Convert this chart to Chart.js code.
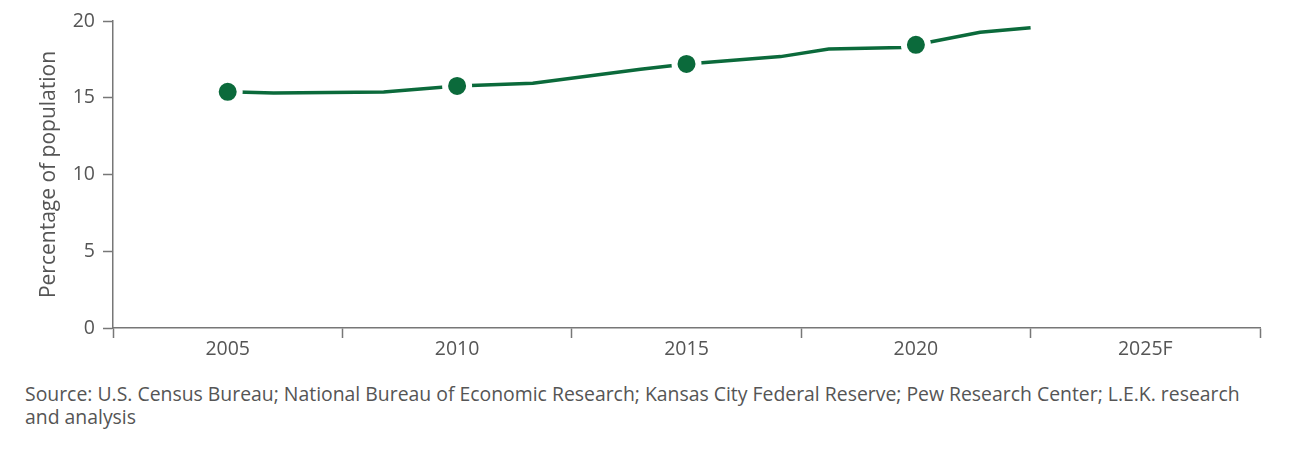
<!DOCTYPE html>
<html>
<head>
<meta charset="utf-8">
<script src="https://cdn.jsdelivr.net/npm/chart.js@4.4.1/dist/chart.umd.min.js"></script>
<style>
  html,body{margin:0;padding:0;background:#fff;}
  body{width:1300px;height:451px;position:relative;overflow:hidden;font-family:"Open Sans", "Noto Sans", sans-serif;}
  #wrap{position:absolute;left:0;top:0;width:1300px;height:370px;}
  #source{position:absolute;left:25px;top:382px;font-size:19.4px;line-height:23px;color:#555;white-space:nowrap;}
</style>
</head>
<body>
<div id="wrap"><canvas id="chart"></canvas></div>
<div id="source">Source: U.S. Census Bureau; National Bureau of Economic Research; Kansas City Federal Reserve; Pew Research Center; L.E.K. research<br>and analysis</div>
<script>
/* ===== Dados ===== */
const anos    = [2005, 2006, 2008.4, 2010, 2011.65, 2014, 2015, 2017.05, 2018.1, 2019.7, 2020, 2021.4, 2022.5];
const valores = [15.39, 15.31, 15.37, 15.77, 15.95, 16.85, 17.2, 17.68, 18.18, 18.28, 18.45, 19.26, 19.56];
const anosMarcados = [2005, 2010, 2015, 2020];
const xLabels   = ['2005', '2010', '2015', '2020', '2025F'];
const xLabelAno = [2005, 2010, 2015, 2020, 2025];
const yTicks    = [0, 5, 10, 15, 20];

const VERDE = '#0b6a3b';
const CINZA = '#777';
const TEXTO = '#555';

// bordas das faixas (meio caminho entre os rótulos)
const bordas = xLabelAno.map(a => a - 2.5).concat([xLabelAno[xLabelAno.length-1] + 2.5]);
const xTicks = bordas.concat(xLabelAno).sort((a,b)=>a-b);

const fonte = { family: '"Open Sans", "Noto Sans", sans-serif', size: 19.5 };

new Chart(document.getElementById('chart'), {
  type: 'line',
  data: {
    datasets: [{
      data: anos.map((a, i) => ({ x: a, y: valores[i] })),
      borderColor: VERDE,
      borderWidth: 3.5,
      tension: 0,
      pointRadius: ctx => anosMarcados.includes(anos[ctx.dataIndex]) ? 12 : 0,
      pointHoverRadius: ctx => anosMarcados.includes(anos[ctx.dataIndex]) ? 12 : 0,
      pointBackgroundColor: VERDE,
      pointBorderColor: '#fff',
      pointBorderWidth: 6,
      clip: false
    }]
  },
  options: {
    responsive: true,
    maintainAspectRatio: false,
    animation: false,
    layout: { padding: { left: 0, right: 40, top: 21, bottom: 0 } },
    plugins: { legend: { display: false }, tooltip: { enabled: false } },
    scales: {
      x: {
        type: 'linear',
        min: bordas[0],
        max: bordas[bordas.length-1],
        afterBuildTicks: s => { s.ticks = xTicks.map(v => ({ value: v })); },
        afterFit: s => { s.height = 42; },
        border: { color: CINZA, width: 1.5 },
        grid: {
          drawOnChartArea: false,
          tickLength: 10,
          tickWidth: 1.5,
          tickColor: ctx => (ctx.tick && xLabelAno.includes(ctx.tick.value)) ? 'rgba(0,0,0,0)' : CINZA
        },
        ticks: {
          autoSkip: false,
          maxRotation: 0,
          padding: 0,
          color: TEXTO,
          font: fonte,
          callback: v => { const i = xLabelAno.indexOf(v); return i >= 0 ? xLabels[i] : ''; }
        }
      },
      y: {
        min: 0,
        max: 20,
        afterBuildTicks: s => { s.ticks = yTicks.map(v => ({ value: v })); },
        afterFit: s => { s.width = 113; },
        border: { color: CINZA, width: 1.5 },
        grid: { drawOnChartArea: false, tickLength: 10, tickWidth: 1.5, tickColor: CINZA },
        ticks: { padding: 8, color: TEXTO, font: fonte },
        title: {
          display: true,
          text: 'Percentage of population',
          color: TEXTO,
          font: { family: fonte.family, size: 21 },
          padding: { top: 36, bottom: 0 }
        }
      }
    }
  }
});
</script>
</body>
</html>
